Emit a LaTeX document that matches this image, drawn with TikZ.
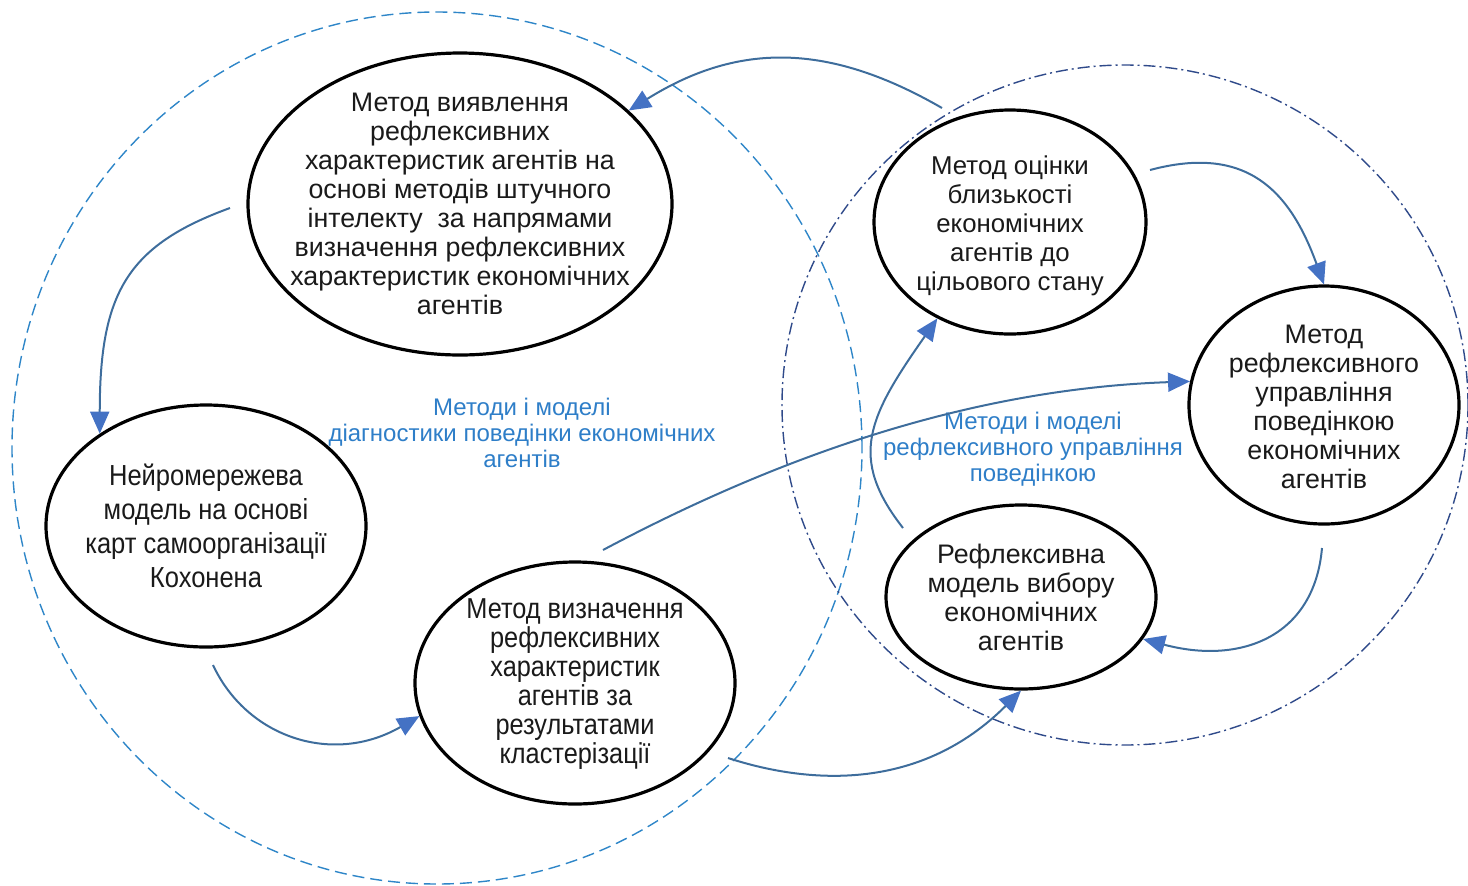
\documentclass[tikz,border=0pt]{standalone}
\usepackage{fontspec}
\setmainfont{Liberation Sans}
\newfontfamily\narrowfont[FakeStretch=0.88]{Liberation Sans}
\usetikzlibrary{shapes.geometric,arrows.meta}
\definecolor{lineblue}{HTML}{3E6D9C}
\definecolor{tipblue}{HTML}{4472C4}
\definecolor{dashblue}{HTML}{2E86C8}
\definecolor{dotblue}{HTML}{2F4A8A}
\definecolor{labelblue}{HTML}{2E7EC8}
\definecolor{txt}{HTML}{1A1A1A}
\begin{document}
\begin{tikzpicture}[x=0.5pt,y=-0.5pt,
  oval/.style={ellipse,draw=black,line width=1.6pt,fill=white,inner sep=0pt},
  ovaltext/.style={align=center,text=txt,inner sep=0pt,font=\fontsize{13.4}{14.5}\selectfont},
  bigzone/.style={ellipse,inner sep=0pt,line width=0.7pt},
  conn/.style={draw=lineblue,line width=1pt,-{Triangle[length=11pt,width=9.5pt,color=tipblue]}},
  zonelabel/.style={align=center,text=labelblue,inner sep=0pt,font=\fontsize{12}{13}\selectfont}
]
\useasboundingbox (0,0) rectangle (1468,885);
% zones
\node[bigzone,draw=dashblue,dash pattern=on 6pt off 3pt,minimum width=425pt,minimum height=436pt] (zoneL) at (437,448) {};
\node[bigzone,draw=dotblue,dash pattern=on 6pt off 2pt on 1pt off 2pt,minimum width=343pt,minimum height=340pt] (zoneR) at (1125,405) {};
% labels
\node[zonelabel] (labL) at (522,433) {Методи і моделі\\діагностики поведінки економічних\\агентів};
\node[zonelabel] (labR) at (1033,449) {Методи і моделі\\рефлексивного управління\\поведінкою};
% ellipses
\node[oval,minimum width=212pt,minimum height=151pt] (E1) at (460,204) {};
\node[oval,minimum width=160pt,minimum height=121pt] (E2) at (206,526) {};
\node[oval,minimum width=160pt,minimum height=121pt] (E3) at (575,683) {};
\node[oval,minimum width=136pt,minimum height=112pt] (E4) at (1010,222) {};
\node[oval,minimum width=135pt,minimum height=119pt] (E5) at (1324,405) {};
\node[oval,minimum width=135pt,minimum height=92pt] (E6) at (1021,597) {};
% ellipse texts
\node[ovaltext] (E1t) at (460,204) {Метод виявлення\\рефлексивних\\характеристик агентів на\\основі методів штучного\\інтелекту\ \ за напрямами\\визначення рефлексивних\\характеристик економічних\\агентів};
\node[ovaltext,font=\narrowfont\fontsize{14.5}{17}\selectfont] (E2t) at (206,526) {Нейромережева\\модель на основі\\карт самоорганізації\\Кохонена};
\node[ovaltext,font=\narrowfont\fontsize{14.4}{14.5}\selectfont] (E3t) at (575,684) {Метод визначення\\рефлексивних\\характеристик\\агентів за\\результатами\\кластерізації};
\node[ovaltext,font=\fontsize{12.9}{14.5}\selectfont] (E4t) at (1010,226) {Метод оцінки\\близькості\\економічних\\агентів до\\цільового стану};
\node[ovaltext] (E5t) at (1324,407) {Метод\\рефлексивного\\управління\\поведінкою\\економічних\\агентів};
\node[ovaltext] (E6t) at (1021,597) {Рефлексивна\\модель вибору\\економічних\\агентів};
% connector start points
\coordinate (c1s) at (942,108);
\coordinate (c2s) at (230,208);
\coordinate (c3s) at (213,665);
\coordinate (c4s) at (603,550);
\coordinate (c5s) at (728,758);
\coordinate (c6s) at (903,528);
\coordinate (c7s) at (1150,170);
\coordinate (c8s) at (1322,548);
% connectors
\draw[conn] (c1s) .. controls +(150:65pt) and +(32:65pt) .. (E1.29);
\draw[conn] (c2s) .. controls +(200:55pt) and +(90:70pt) .. (E2.139);
\draw[conn] (c3s) .. controls +(-65:40pt) and +(210:50pt) .. (E3.192);
\draw[conn] (c4s) .. controls +(28:100pt) and +(182:110pt) .. (E5.170);
\draw[conn] (c5s) .. controls +(-18:45pt) and +(225:70pt) .. (E6.270);
\draw[conn] (c6s) .. controls +(128:45pt) and +(235:60pt) .. (E4.233);
\draw[conn] (c7s) .. controls +(15:50pt) and +(110:50pt) .. (E5.90);
\draw[conn] (c8s) .. controls +(265:45pt) and +(-15:50pt) .. (E6.341);
\end{tikzpicture}
\end{document}
